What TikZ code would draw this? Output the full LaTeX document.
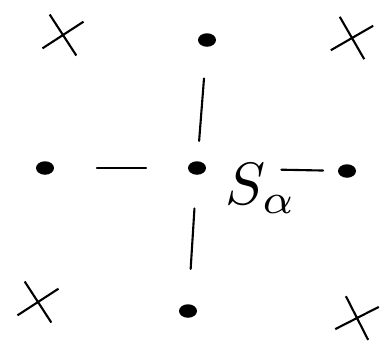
\documentclass[tikz,border=0pt]{standalone}
\usepackage{amsmath}
\usetikzlibrary{shapes.geometric,shapes.misc}
\tikzset{
  site/.style={ellipse, fill, inner sep=0pt, minimum width=3.6mm, minimum height=2.7mm},
  corner/.style={cross out, draw, line width=1.2pt, inner sep=0pt, minimum size=6.5mm},
  bond/.style={line width=1.2pt, line cap=round}
}
\begin{document}
\begin{tikzpicture}[x=0.2mm, y=-0.2mm]
\useasboundingbox (0,0) rectangle (382,349);
\node[corner, rotate=-12] (tl) at (63,35) {};
\node[corner, rotate=-15] (tr) at (352,38) {};
\node[corner, rotate=-12] (bl) at (38,302) {};
\node[corner, rotate=-18] (br) at (357,318) {};
\node[site] (top) at (207,40) {};
\node[site] (left) at (45,168) {};
\node[site] (mid) at (197,168) {};
\node[site] (right) at (347,171) {};
\node[site] (bottom) at (188,311) {};
\node[scale=3.4] (salpha) at (261,189) {$S_\alpha$};
\draw[bond, shorten <=15mm, shorten >=2.9mm] (mid) -- (right);
\draw[bond, shorten <=4mm, shorten >=6.3mm] (mid) -- (top);
\draw[bond, shorten <=6.7mm, shorten >=7mm] (mid) -- (bottom);
\draw[bond, shorten <=8.3mm, shorten >=8.5mm] (mid) -- (left);
\end{tikzpicture}
\end{document}
